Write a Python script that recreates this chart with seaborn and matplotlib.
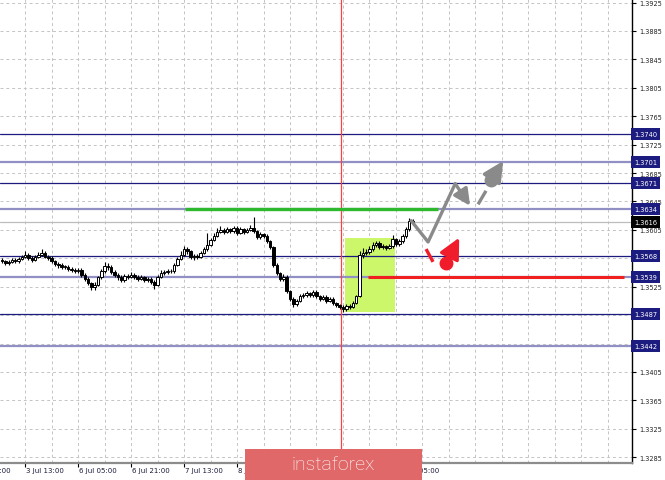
import matplotlib
matplotlib.use("Agg")
import numpy as np
import pandas as pd
import matplotlib.pyplot as plt
import matplotlib.transforms as mtrans
from matplotlib.patches import Rectangle
import seaborn as sns

# ---------------- data (hourly candles) ----------------
opens = [1.3563, 1.3561, 1.3558, 1.3560, 1.3563, 1.3561, 1.3564, 1.3567, 1.3570, 1.3566,
         1.3563, 1.3567, 1.3570, 1.3573, 1.3567, 1.3566, 1.3561, 1.3557, 1.3556, 1.3553,
         1.3553, 1.3550, 1.3549, 1.3547, 1.3549, 1.3542, 1.3536, 1.3530, 1.3525, 1.3528,
         1.3538, 1.3547, 1.3554, 1.3553, 1.3546, 1.3542, 1.3538, 1.3535, 1.3540, 1.3539,
         1.3542, 1.3539, 1.3536, 1.3538, 1.3535, 1.3536, 1.3532, 1.3528, 1.3539, 1.3545,
         1.3546, 1.3547, 1.3547, 1.3556, 1.3564, 1.3570, 1.3578, 1.3575, 1.3567, 1.3568,
         1.3567, 1.3573, 1.3578, 1.3584, 1.3591, 1.3597, 1.3602, 1.3605, 1.3602, 1.3606,
         1.3603, 1.3608, 1.3601, 1.3606, 1.3602, 1.3605, 1.3608, 1.3603, 1.3595, 1.3599,
         1.3597, 1.3589, 1.3581, 1.3556, 1.3544, 1.3536, 1.3539, 1.3519, 1.3508, 1.3501,
         1.3505, 1.3512, 1.3513, 1.3516, 1.3513, 1.3518, 1.3512, 1.3508, 1.3511, 1.3505,
         1.3508, 1.3502, 1.3499, 1.3497, 1.3494, 1.3498, 1.3497, 1.3502, 1.3512, 1.3570,
         1.3573, 1.3574, 1.3578, 1.3584, 1.3587, 1.3581, 1.3582, 1.3580, 1.3582, 1.3592,
         1.3585, 1.3589, 1.3596, 1.3606, 1.3618]
closes = [1.3561, 1.3558, 1.3560, 1.3563, 1.3561, 1.3564, 1.3567, 1.3570, 1.3566, 1.3563,
          1.3567, 1.3570, 1.3573, 1.3567, 1.3566, 1.3561, 1.3557, 1.3556, 1.3553, 1.3553,
          1.3550, 1.3549, 1.3547, 1.3549, 1.3542, 1.3536, 1.3530, 1.3525, 1.3528, 1.3538,
          1.3547, 1.3554, 1.3553, 1.3546, 1.3542, 1.3538, 1.3535, 1.3540, 1.3539, 1.3542,
          1.3539, 1.3536, 1.3538, 1.3535, 1.3536, 1.3532, 1.3528, 1.3539, 1.3545, 1.3546,
          1.3547, 1.3547, 1.3556, 1.3564, 1.3570, 1.3578, 1.3575, 1.3567, 1.3568, 1.3567,
          1.3573, 1.3578, 1.3584, 1.3591, 1.3597, 1.3602, 1.3605, 1.3602, 1.3606, 1.3603,
          1.3608, 1.3601, 1.3606, 1.3602, 1.3605, 1.3608, 1.3603, 1.3595, 1.3599, 1.3597,
          1.3589, 1.3581, 1.3556, 1.3544, 1.3536, 1.3539, 1.3519, 1.3508, 1.3501, 1.3505,
          1.3512, 1.3513, 1.3516, 1.3513, 1.3518, 1.3512, 1.3508, 1.3511, 1.3505, 1.3508,
          1.3502, 1.3499, 1.3497, 1.3494, 1.3498, 1.3497, 1.3502, 1.3512, 1.3570, 1.3573,
          1.3574, 1.3578, 1.3584, 1.3587, 1.3581, 1.3582, 1.3580, 1.3582, 1.3592, 1.3585,
          1.3589, 1.3596, 1.3606, 1.3618, 1.3616]
highs = [1.3566, 1.3563, 1.3563, 1.3565, 1.3566, 1.3567, 1.3570, 1.3575, 1.3572, 1.3568,
         1.3569, 1.3574, 1.3578, 1.3575, 1.3570, 1.3568, 1.3563, 1.3560, 1.3558, 1.3556,
         1.3555, 1.3553, 1.3552, 1.3552, 1.3551, 1.3544, 1.3538, 1.3532, 1.3531, 1.3540,
         1.3550, 1.3560, 1.3558, 1.3555, 1.3549, 1.3545, 1.3541, 1.3543, 1.3543, 1.3546,
         1.3544, 1.3541, 1.3541, 1.3540, 1.3539, 1.3538, 1.3535, 1.3541, 1.3548, 1.3549,
         1.3550, 1.3550, 1.3558, 1.3567, 1.3576, 1.3582, 1.3581, 1.3577, 1.3571, 1.3571,
         1.3575, 1.3581, 1.3600, 1.3594, 1.3600, 1.3608, 1.3610, 1.3607, 1.3609, 1.3608,
         1.3611, 1.3610, 1.3609, 1.3608, 1.3608, 1.3612, 1.3623, 1.3605, 1.3602, 1.3601,
         1.3599, 1.3591, 1.3583, 1.3558, 1.3546, 1.3543, 1.3541, 1.3521, 1.3510, 1.3508,
         1.3515, 1.3516, 1.3519, 1.3518, 1.3521, 1.3520, 1.3514, 1.3514, 1.3513, 1.3511,
         1.3510, 1.3504, 1.3501, 1.3499, 1.3501, 1.3501, 1.3505, 1.3514, 1.3575, 1.3580,
         1.3578, 1.3582, 1.3588, 1.3590, 1.3589, 1.3585, 1.3584, 1.3585, 1.3598, 1.3594,
         1.3592, 1.3599, 1.3609, 1.3622, 1.3621]
lows = [1.3558, 1.3555, 1.3556, 1.3558, 1.3559, 1.3559, 1.3562, 1.3565, 1.3563, 1.3560,
        1.3561, 1.3565, 1.3568, 1.3565, 1.3563, 1.3558, 1.3554, 1.3552, 1.3550, 1.3550,
        1.3547, 1.3546, 1.3544, 1.3544, 1.3539, 1.3533, 1.3527, 1.3520, 1.3521, 1.3526,
        1.3536, 1.3545, 1.3549, 1.3543, 1.3539, 1.3534, 1.3531, 1.3532, 1.3536, 1.3537,
        1.3536, 1.3533, 1.3534, 1.3532, 1.3532, 1.3529, 1.3522, 1.3526, 1.3537, 1.3542,
        1.3543, 1.3544, 1.3545, 1.3554, 1.3562, 1.3568, 1.3571, 1.3564, 1.3563, 1.3564,
        1.3565, 1.3571, 1.3576, 1.3582, 1.3589, 1.3595, 1.3600, 1.3599, 1.3600, 1.3600,
        1.3601, 1.3598, 1.3599, 1.3599, 1.3600, 1.3603, 1.3600, 1.3592, 1.3592, 1.3593,
        1.3586, 1.3578, 1.3553, 1.3541, 1.3533, 1.3533, 1.3516, 1.3505, 1.3496, 1.3498,
        1.3503, 1.3509, 1.3511, 1.3510, 1.3511, 1.3509, 1.3505, 1.3506, 1.3502, 1.3503,
        1.3499, 1.3496, 1.3493, 1.3489, 1.3491, 1.3494, 1.3495, 1.3500, 1.3510, 1.3566,
        1.3569, 1.3571, 1.3576, 1.3581, 1.3578, 1.3578, 1.3577, 1.3578, 1.3580, 1.3582,
        1.3583, 1.3587, 1.3594, 1.3604, 1.3612]

level_prices = [1.3740, 1.3701, 1.3671, 1.3634, 1.3568, 1.3539, 1.3487, 1.3442]
level_labels = ["1.3740", "1.3701", "1.3671", "1.3634", "1.3568", "1.3539", "1.3487", "1.3442"]
level_dark = [True, False, True, False, True, False, True, False]
current_price = 1.3616
current_label = "1.3616"

y_ticks = [1.3285, 1.3325, 1.3365, 1.3405, 1.3445, 1.3485, 1.3525, 1.3565, 1.3605,
           1.3645, 1.3685, 1.3725, 1.3765, 1.3805, 1.3845, 1.3885, 1.3925]
# labels that sit under a level box are not visible in the chart
y_tick_labels = ["1.3285", "1.3325", "1.3365", "1.3405", "", "", "1.3525", "", "1.3605",
                 "1.3645", "1.3685", "1.3725", "1.3765", "1.3805", "1.3845", "1.3885", "1.3925"]
x_tick_bars = [-9, 7, 23, 39, 55, 71, 119]
x_tick_labels = ["2 Jul 21:00", "3 Jul 13:00", "6 Jul 05:00", "6 Jul 21:00", "7 Jul 13:00",
                 "8 Jul 05:00", "10 Jul 05:00"]

# annotations (bar index, price)
vline_bar = 102.4
green_box_bars = [103.6, 118.7]
green_box_prices = [1.3489, 1.3594]
green_line_bars = [55.3, 131.7]
green_line_price = 1.3634
red_line_bars = [110.6, 187.9]
red_line_price = 1.3539
gray_path_bars = [123.6, 128.7, 136.9]
gray_path_prices = [1.3618, 1.3588, 1.3670]
gray_arrow_end = (141.4, 1.3639)
gray_dash_bars = [143.8, 146.2]
gray_dash_prices = [1.3641, 1.3660]
gray_blob = (147.7, 1.3675)
gray_blob_tip = (151.4, 1.3702)
red_dash_bars = [128.1, 130.2]
red_dash_prices = [1.3578, 1.3560]
red_blob = (134.1, 1.3558)
red_blob_tip = (138.1, 1.3594)

# ---------------- figure ----------------
sns.set_theme(style="white")
plt.rcParams["font.family"] = ["DejaVu Sans"]

W, H = 665, 481
fig = plt.figure(figsize=(W / 100, H / 100), dpi=100)
fig.patch.set_facecolor("white")
ax = fig.add_axes([0, 17 / H, 632 / W, 464 / H])
ax.set_facecolor("white")
ax.set_xlim(-0.6, 190.3)
ax.set_ylim(1.32769, 1.39300)

# grid
grid_col = "#c4c4c4"
for p in y_ticks:
    ax.axhline(p, color=grid_col, lw=0.7, ls=(0, (3, 3)), zorder=0)
for b in range(-1, 191, 8):
    ax.axvline(b, color=grid_col, lw=0.7, ls=(0, (3, 3)), zorder=0)

# green zone
ax.add_patch(Rectangle((green_box_bars[0], green_box_prices[0]),
                       green_box_bars[1] - green_box_bars[0],
                       green_box_prices[1] - green_box_prices[0],
                       facecolor="#ccf76a", edgecolor="none", zorder=1))

# horizontal levels
for p, dark in zip(level_prices, level_dark):
    if dark:
        ax.axhline(p, color="#1c1c80", lw=0.9, zorder=2)
    else:
        ax.axhline(p, color="#9090c4", lw=1.6, zorder=2)
ax.axhline(current_price, color="#bdbdbd", lw=0.9, zorder=2)

# red vertical line
ax.axvline(vline_bar, color="#ff4040", lw=0.9, zorder=2)

# green and red levels
ax.plot(green_line_bars, [green_line_price] * 2, color="#2eb82e", lw=2.4, zorder=3, solid_capstyle="butt")
ax.plot(red_line_bars, [red_line_price] * 2, color="#f02020", lw=2.2, zorder=3, solid_capstyle="butt")

# candles
df = pd.DataFrame({"o": opens, "h": highs, "l": lows, "c": closes})
df["x"] = np.arange(len(df))
ax.vlines(df["x"], df["l"], df["h"], color="black", lw=0.8, zorder=4)
bull = df[df["c"] >= df["o"]]
bear = df[df["c"] < df["o"]]
ax.bar(bull["x"], np.maximum(bull["c"] - bull["o"], 0.00006), bottom=bull["o"], width=0.75,
       color="white", edgecolor="black", lw=0.7, zorder=5)
ax.bar(bear["x"], np.maximum(bear["o"] - bear["c"], 0.00006), bottom=bear["c"], width=0.75,
       color="black", edgecolor="black", lw=0.7, zorder=5)

# forecast arrows
gray = "#8a8a8a"
path = pd.DataFrame({"bar": gray_path_bars, "price": gray_path_prices})
sns.lineplot(data=path, x="bar", y="price", sort=False, color=gray, lw=2.4, ax=ax, zorder=6)
ax.annotate("", xy=gray_arrow_end, xytext=(gray_path_bars[-1], gray_path_prices[-1]),
            arrowprops=dict(arrowstyle="-|>,head_length=0.7,head_width=0.35", color=gray, lw=2.4,
                            shrinkA=0, shrinkB=0, mutation_scale=14), zorder=6)
ax.plot(gray_dash_bars, gray_dash_prices, color=gray, lw=2.4, zorder=6, solid_capstyle="butt")
ax.plot([gray_blob[0]], [gray_blob[1]], "o", color=gray, ms=9, zorder=6)
ax.annotate("", xy=gray_blob_tip, xytext=gray_blob,
            arrowprops=dict(arrowstyle="-|>,head_length=0.9,head_width=0.45", color=gray, lw=2.4,
                            shrinkA=0, shrinkB=0, mutation_scale=14), zorder=6)
red = "#f01c2c"
ax.plot(red_dash_bars, red_dash_prices, color=red, lw=2.4, zorder=6, solid_capstyle="butt")
ax.plot([red_blob[0]], [red_blob[1]], "o", color=red, ms=9, zorder=6)
ax.annotate("", xy=red_blob_tip, xytext=red_blob,
            arrowprops=dict(arrowstyle="-|>,head_length=0.9,head_width=0.45", color=red, lw=2.4,
                            shrinkA=0, shrinkB=0, mutation_scale=14), zorder=6)

# axes styling
for s in ["top", "left"]:
    ax.spines[s].set_visible(False)
ax.spines["right"].set_color("black")
ax.spines["right"].set_linewidth(1.0)
ax.spines["bottom"].set_color("#8c8c8c")
ax.spines["bottom"].set_linewidth(1.6)

ax.yaxis.tick_right()
ax.set_yticks(y_ticks)
ax.set_yticklabels(y_tick_labels)
ax.tick_params(axis="y", right=True, left=False, length=3, width=0.8, color="black",
               pad=2.5, labelsize=4.7, labelcolor="#222222")
ax.set_xticks(x_tick_bars[1:])
ax.tick_params(axis="x", bottom=True, length=3, width=0.8, color="black", labelbottom=False)
ax.set_xlabel("")
ax.set_ylabel("")

xform = mtrans.blended_transform_factory(ax.transData, ax.transAxes)
for b, lab in zip(x_tick_bars, x_tick_labels):
    ax.text(b + 0.3, -0.009, lab, transform=xform, ha="left", va="top", fontsize=5,
            color="#1a1a3a", clip_on=False)

# right level labels
yform = mtrans.blended_transform_factory(ax.transAxes, ax.transData)
for p, lab in zip(level_prices, level_labels):
    ax.text(1.0035, p, lab, transform=yform, ha="left", va="center", fontsize=4.8, color="white",
            bbox=dict(boxstyle="square,pad=0.45", fc="#1c1c80", ec="none"), zorder=10, clip_on=False)
ax.text(1.0035, current_price, current_label, transform=yform, ha="left", va="center", fontsize=4.8,
        color="white", bbox=dict(boxstyle="square,pad=0.45", fc="black", ec="none"), zorder=10,
        clip_on=False)

# banner
fig.patches.append(Rectangle((245 / W, 0), 177 / W, 31 / H, transform=fig.transFigure,
                             facecolor="#e06868", edgecolor="none", zorder=20))
fig.text(333 / W, 15.5 / H, "instaforex", ha="center", va="center", fontsize=14,
         color="white", family=["Roboto", "DejaVu Sans"], fontweight="light", zorder=21)

fig.savefig("out.png", dpi=100, facecolor="white")
